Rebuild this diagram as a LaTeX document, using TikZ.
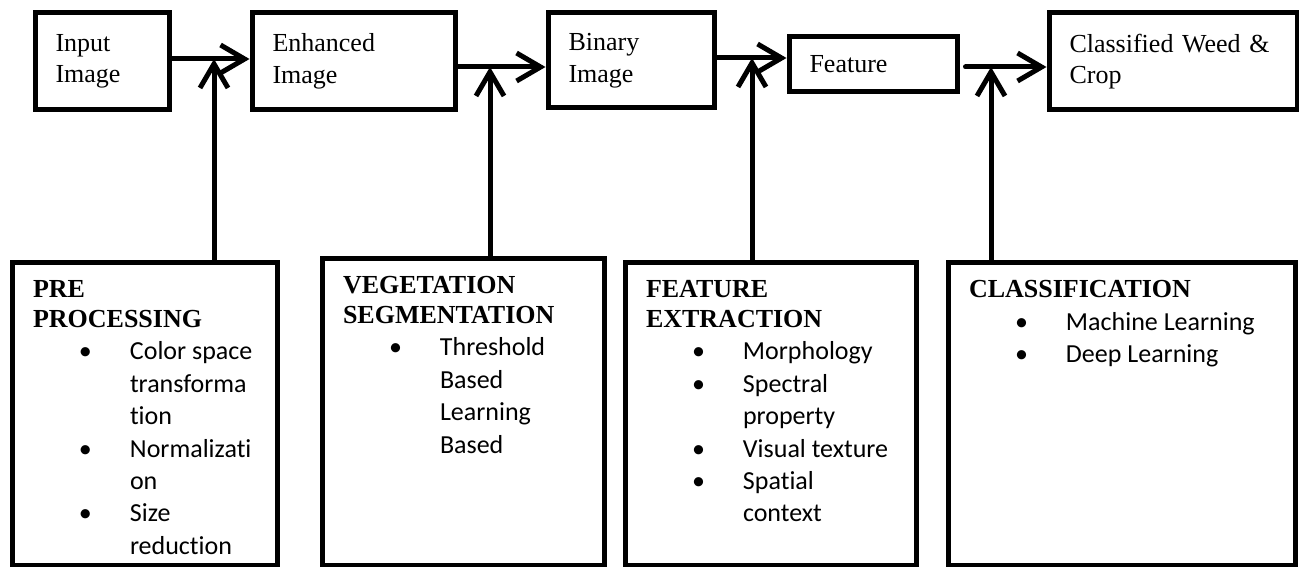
\documentclass[tikz,border=0pt]{standalone}
\usepackage{fontspec}
\setmainfont{Liberation Serif}
\newfontfamily\calibri[Ligatures=NoCommon]{Carlito}
\usetikzlibrary{arrows.meta}

\newcommand{\bulitem}{\hspace*{46pt}\makebox[51pt][l]{\textbullet}}
\newcommand{\bulcont}{\hspace*{97pt}}

\begin{document}
\begin{tikzpicture}[x=1pt, y=-1pt,
    stage/.style={draw, line width=5pt, anchor=north west, align=left,
        inner xsep=20.5pt, inner ysep=0pt, font=\fontsize{26}{31.5}\selectfont},
    panel/.style={draw, line width=5pt, anchor=north west, inner xsep=21pt,
        inner ysep=16.5pt, font=\calibri\fontsize{26}{32.5}\selectfont},
    flow/.style={line width=5pt, line cap=round,
        -{Straight Barb[length=24pt, width=28pt]}}]
    \useasboundingbox (0,0) rectangle (1299,567);

    % Top row: images along the pipeline
    \node [stage, text width=93pt, minimum height=97pt] (input) at (32.5,10.5) {Input\\Image};
    \node [stage, text width=162pt, minimum height=97pt] (enhanced) at (249.5,10.5) {Enhanced\\Image};
    \node [stage, text width=125pt, minimum height=95pt] (binary) at (545.5,10.5) {Binary\\Image};
    \node [stage, text width=127pt, minimum height=55pt] (feature) at (786.5,34.5) {Feature};
    \node [stage, text width=207pt, minimum height=97pt] (classified) at (1046.5,10.5) {Classified Weed \&\\Crop};

    % Bottom row: processing steps
    \node [panel] (prep) at (9.5,259.5) {\parbox[t][270pt][t]{223pt}{%
        {\rmfamily\bfseries\fontsize{26}{29.5}\selectfont\rule{0pt}{19pt}PRE\\PROCESSING\par}
        \bulitem Color space\\
        \bulcont transforma\\
        \bulcont tion\\
        \bulitem Normalizati\\
        \bulcont on\\
        \bulitem Size\\
        \bulcont reduction}};
    \node [panel] (vegseg) at (319.5,255.5) {\parbox[t][274pt][t]{240pt}{%
        {\rmfamily\bfseries\fontsize{26}{29.5}\selectfont\rule{0pt}{19pt}VEGETATION\\SEGMENTATION\par}
        \bulitem Threshold\\
        \bulcont Based\\
        \bulcont Learning\\
        \bulcont Based}};
    \node [panel] (featex) at (622.5,259.5) {\parbox[t][270pt][t]{249pt}{%
        {\rmfamily\bfseries\fontsize{26}{29.5}\selectfont\rule{0pt}{19pt}FEATURE\\EXTRACTION\par}
        \bulitem Morphology\\
        \bulitem Spectral\\
        \bulcont property\\
        \bulitem Visual texture\\
        \bulitem Spatial\\
        \bulcont context}};
    \node [panel] (classif) at (945.5,259.5) {\parbox[t][270pt][t]{305pt}{%
        {\rmfamily\bfseries\fontsize{26}{29.5}\selectfont\rule{0pt}{19pt}CLASSIFICATION\par}
        \bulitem Machine Learning\\
        \bulitem Deep Learning}};

    % Junctions where the steps meet the pipeline
    \coordinate (prejoin) at (214,59);
    \coordinate (segjoin) at (490,67);
    \coordinate (featjoin) at (752,58);
    \coordinate (clsjoin) at (991,67);

    \draw [flow] (input.east |- prejoin) -- (enhanced.west |- prejoin);
    \draw [flow] (enhanced.east |- segjoin) -- (binary.west |- segjoin);
    \draw [flow] (binary.east |- featjoin) -- (feature.west |- featjoin);
    \draw [flow, shorten <=6pt] (feature.east |- clsjoin) -- (classified.west |- clsjoin);

    \draw [flow] (prep.north -| prejoin) -- (prejoin);
    \draw [flow] (vegseg.north -| segjoin) -- (segjoin);
    \draw [flow] (featex.north -| featjoin) -- (featjoin);
    \draw [flow] (classif.north -| clsjoin) -- (clsjoin);

\end{tikzpicture}
\end{document}
